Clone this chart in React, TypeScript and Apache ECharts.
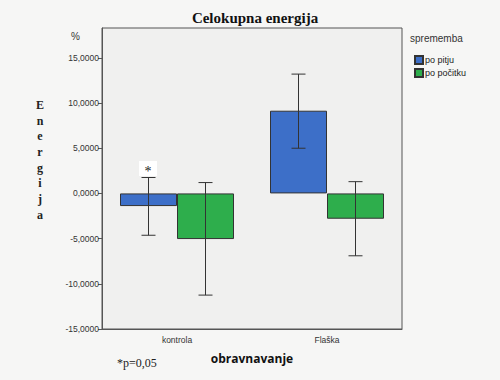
import React, { useEffect, useRef } from "react";
import * as echarts from "echarts";

const categories = ["kontrola", "Flaška"];
const seriesNames = ["po pitju", "po počitku"];
const meanPoPitju = [-1.4, 9.15];
const lowPoPitju = [-4.63, 5.0];
const highPoPitju = [1.76, 13.2];
const meanPoPocitku = [-5.05, -2.8];
const lowPoPocitku = [-11.25, -6.9];
const highPoPocitku = [1.2, 1.3];
const yTicks = [-15, -10, -5, 0, 5, 10, 15];
const yMin = -15;
const yMax = 18.3;

const BLUE = "#3d6fc8";
const GREEN = "#2eae4c";

function errorSeries(low: number[], high: number[], side: number) {
  return {
    type: "custom",
    silent: true,
    z: 10,
    data: categories.map((_, i) => [i, low[i], high[i]]),
    renderItem: (params: any, api: any) => {
      const i = api.value(0);
      const band = api.size([1, 0])[0];
      const off = side * band * 0.19;
      const pLow = api.coord([i, api.value(1)]);
      const pHigh = api.coord([i, api.value(2)]);
      const x = pLow[0] + off;
      const cap = 7;
      const style = { stroke: "#333", lineWidth: 1 };
      return {
        type: "group",
        children: [
          { type: "line", shape: { x1: x, y1: pLow[1], x2: x, y2: pHigh[1] }, style },
          { type: "line", shape: { x1: x - cap, y1: pLow[1], x2: x + cap, y2: pLow[1] }, style },
          { type: "line", shape: { x1: x - cap, y1: pHigh[1], x2: x + cap, y2: pHigh[1] }, style },
        ],
      };
    },
  };
}

export default function App() {
  const ref = useRef<HTMLDivElement>(null);
  useEffect(() => {
    const chart = echarts.init(ref.current!, null, { renderer: "svg" });
    const fmt = (v: number) => v.toFixed(4).replace(".", ",");
    chart.setOption({
      animation: false,
      backgroundColor: "#f6f6f5",
      title: {
        text: "Celokupna energija",
        left: 250,
        textAlign: "center",
        top: 5,
        textStyle: { fontFamily: "Liberation Serif", fontWeight: "bold", fontSize: 15, color: "#111" },
      },
      grid: {
        left: 102,
        right: 98,
        top: 28,
        bottom: 51,
        show: true,
        backgroundColor: "#f0f0ef",
        borderColor: "#555",
        borderWidth: 1,
      },
      legend: {
        orient: "vertical",
        left: 409,
        top: 50,
        itemWidth: 8,
        itemHeight: 8,
        itemGap: 3,
        icon: "rect",
        data: seriesNames,
        textStyle: { fontFamily: "Liberation Sans", fontSize: 9, color: "#222", padding: [0, 0, 0, -3] },
      },
      xAxis: {
        type: "category",
        data: categories,
        name: "obravnavanje",
        nameLocation: "middle",
        nameGap: 23,
        nameTextStyle: { fontFamily: "Open Sans", fontWeight: "bold", fontSize: 12, color: "#111" },
        axisLine: { onZero: false, lineStyle: { color: "#555" } },
        axisTick: { alignWithLabel: true, length: 4, lineStyle: { color: "#555" } },
        axisLabel: { fontFamily: "Liberation Sans", fontSize: 8.5, color: "#333", margin: 6 },
      },
      yAxis: {
        type: "value",
        min: yMin,
        max: yMax,
        interval: 5,
        splitLine: { show: false },
        axisLine: { show: true, lineStyle: { color: "#555" } },
        axisTick: { show: true, length: 4, customValues: yTicks, lineStyle: { color: "#555" } },
        axisLabel: {
          fontFamily: "Liberation Sans",
          fontSize: 8.5,
          color: "#333",
          margin: 3,
          customValues: yTicks,
          formatter: (v: number) => fmt(v),
        },
      },
      graphic: [
        {
          type: "text",
          left: 71,
          top: 31,
          style: { text: "%", fontFamily: "Liberation Sans", fontSize: 10, fill: "#333" },
        },
        {
          type: "text",
          x: 40,
          y: 97,
          style: {
            text: "E\nn\ne\nr\ng\ni\nj\na",
            fontFamily: "Liberation Serif",
            fontWeight: "bold",
            fontSize: 12,
            lineHeight: 15.7,
            align: "center",
            fill: "#222",
          },
        },
        {
          type: "text",
          left: 410,
          top: 33,
          style: { text: "sprememba", fontFamily: "Liberation Sans", fontSize: 10, fill: "#333" },
        },
        {
          type: "rect",
          shape: { x: 139, y: 161, width: 18, height: 15 },
          style: { fill: "#ffffff" },
        },
        {
          type: "text",
          x: 148,
          y: 171,
          style: { text: "*", fontFamily: "Liberation Serif", fontSize: 14, fill: "#222", align: "center", verticalAlign: "middle" },
        },
        {
          type: "text",
          left: 117,
          top: 357,
          style: { text: "*p=0,05", fontFamily: "Liberation Serif", fontSize: 12, fill: "#222" },
        },
      ],
      series: [
        {
          name: seriesNames[0],
          type: "bar",
          data: meanPoPitju,
          barWidth: "38%",
          barGap: "0%",
          itemStyle: { color: BLUE, borderColor: "#333", borderWidth: 1 },
        },
        {
          name: seriesNames[1],
          type: "bar",
          data: meanPoPocitku,
          barWidth: "38%",
          barGap: "0%",
          itemStyle: { color: GREEN, borderColor: "#333", borderWidth: 1 },
        },
        errorSeries(lowPoPitju, highPoPitju, -1),
        errorSeries(lowPoPocitku, highPoPocitku, 1),
      ],
    });
    return () => chart.dispose();
  }, []);
  return (
    <div
      ref={ref}
      style={{ position: "fixed", left: 0, top: 0, width: 500, height: 380 }}
    />
  );
}
